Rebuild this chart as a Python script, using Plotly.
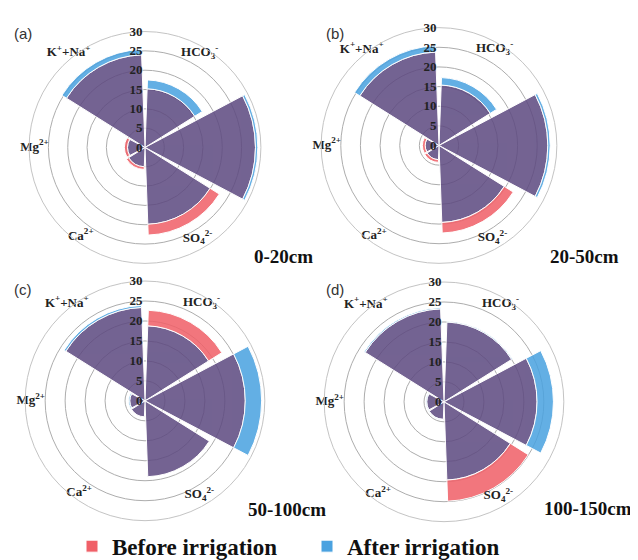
import plotly.graph_objects as go

# ---------------- data ----------------
categories = ["HCO<sub>3</sub><sup>-</sup>", "Cl<sup>-</sup>", "SO<sub>4</sub><sup>2-</sup>",
              "Ca<sup>2+</sup>", "Mg<sup>2+</sup>", "K<sup>+</sup>+Na<sup>+</sup>"]
depths = ["0-20cm", "20-50cm", "50-100cm", "100-150cm"]
panel_letters = ["(a)", "(b)", "(c)", "(d)"]

before_0_20 = [15.2, 28.6, 22.7, 5.7, 5.3, 24.0]
after_0_20 = [17.5, 29.2, 19.9, 5.0, 4.5, 25.4]
before_20_50 = [15.4, 27.7, 22.3, 4.3, 4.2, 23.8]
after_20_50 = [17.3, 28.3, 19.6, 3.6, 3.5, 25.4]
before_50_100 = [22.7, 25.1, 19.0, 4.0, 3.8, 23.4]
after_50_100 = [18.8, 29.2, 19.0, 4.0, 4.1, 23.9]
before_100_150 = [20.0, 23.3, 24.9, 4.4, 4.3, 23.3]
after_100_150 = [20.2, 27.4, 19.6, 4.5, 4.5, 23.6]

radial_ticks = [0, 5, 10, 15, 20, 25, 30]

befores = [before_0_20, before_20_50, before_50_100, before_100_150]
afters = [after_0_20, after_20_50, after_50_100, after_100_150]

# ---------------- style ----------------
W, H = 638, 560
OP = 0.86
C_BOTH = "rgb(94,74,128)"
C_BEFORE = "rgb(240,96,104)"
C_AFTER = "rgb(74,162,224)"
SERIF = "Liberation Serif"
SANS = "Liberation Sans"

# polar circles (pixel centre x, centre y, radius)
circles = [(137, 142, 118), (431, 140, 120), (137, 400, 122), (436, 401, 122)]
letter_pos = [(4, 26), (316, 26), (4, 287), (316, 287)]
depth_pos = [(307, 253), (613, 253), (320, 511), (626, 510)]
label_r = [28.3, 30.6, 27.2, 26.6, 28.6, 28.2]
label_pos = ["middle center", "middle center", "middle center", "middle left",
             "middle center", "middle left"]

fig = go.Figure()
for i in range(4):
    sub = "polar" if i == 0 else f"polar{i+1}"
    b, a = befores[i], afters[i]
    both = [min(x, y) for x, y in zip(b, a)]
    extra_b = [x - m for x, m in zip(b, both)]
    extra_a = [y - m for y, m in zip(a, both)]
    common = dict(theta=categories, width=0.93, subplot=sub,
                  marker_line=dict(color="white", width=1))
    fig.add_trace(go.Barpolar(r=both, name="Both", showlegend=False,
                              marker_color=C_BOTH, marker_opacity=OP,
                              hoverinfo="skip", **common))
    fig.add_trace(go.Barpolar(r=extra_b, name="Before irrigation", showlegend=(i == 0),
                              legendgroup="b", marker_color=C_BEFORE, marker_opacity=OP,
                              **common))
    fig.add_trace(go.Barpolar(r=extra_a, name="After irrigation", showlegend=(i == 0),
                              legendgroup="a", marker_color=C_AFTER, marker_opacity=OP,
                              **common))
    fig.add_trace(go.Scatterpolar(r=label_r, theta=categories, mode="text",
                                  text=categories, textposition=label_pos,
                                  subplot=sub, showlegend=False, hoverinfo="skip",
                                  textfont=dict(family=SERIF, size=13, color="#222",
                                                weight="bold")))

    cx, cy, rad = circles[i]
    polar = dict(
        domain=dict(x=[(cx - rad) / W, (cx + rad) / W],
                    y=[1 - (cy + rad) / H, 1 - (cy - rad) / H]),
        barmode="stack",
        bgcolor="rgba(0,0,0,0)",
        angularaxis=dict(direction="clockwise", rotation=60, showgrid=False,
                         showticklabels=False, ticks="", showline=True,
                         linecolor="#c4c4c4", linewidth=1),
        radialaxis=dict(range=[0, 30], tickvals=radial_ticks, angle=90,
                        side="counterclockwise", tickangle=90, showline=False, ticks="",
                        gridcolor="#adadad", gridwidth=1,
                        tickfont=dict(family=SERIF, size=13, color="#222", weight="bold")),
    )
    fig.update_layout(**{sub: polar})

    lx, ly = letter_pos[i]
    fig.add_annotation(text=panel_letters[i], x=lx / W, y=1 - ly / H, xref="paper", yref="paper",
                       xanchor="left", yanchor="middle", showarrow=False,
                       font=dict(family=SANS, size=15, color="#333"))
    dx, dy = depth_pos[i]
    fig.add_annotation(text="<b>" + depths[i] + "</b>", x=dx / W, y=1 - dy / H,
                       xref="paper", yref="paper", xanchor="right", yanchor="middle",
                       showarrow=False, font=dict(family=SERIF, size=19, color="#111"))

fig.update_layout(
    width=W, height=H,
    margin=dict(l=0, r=0, t=0, b=0),
    paper_bgcolor="white",
    plot_bgcolor="white",
    legend=dict(orientation="h", x=64 / W, xanchor="left", y=1 - 548 / H, yanchor="middle",
                entrywidth=190, entrywidthmode="pixels",
                font=dict(family=SERIF, size=23, color="#111", weight="bold"),
                bgcolor="rgba(0,0,0,0)"),
)

fig.write_html("out.html")
